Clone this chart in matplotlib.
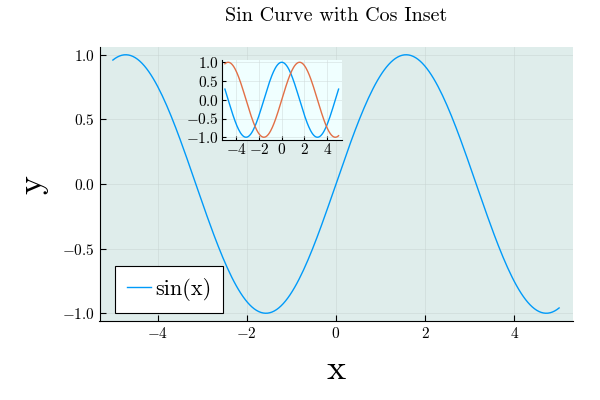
import numpy as np
import matplotlib
matplotlib.use("Agg")
import matplotlib.pyplot as plt

plt.rcParams['font.family'] = 'serif'
plt.rcParams['font.serif'] = ['cmr10']
plt.rcParams['mathtext.fontset'] = 'cm'
plt.rcParams['axes.formatter.use_mathtext'] = True

# data: sin on main plot, cos + sin in the inset
x = np.linspace(-5, 5, 200)
y_sin = np.sin(x)
y_cos = np.cos(x)

xticks = [-4, -2, 0, 2, 4]
yticks_main = [-1.0, -0.5, 0.0, 0.5, 1.0]
yticks_inset = [-1.0, -0.5, 0.0, 0.5, 1.0]

blue = '#009af9'
orange = '#e26f46'


def mlab(vals, fmt):
    return ['$' + format(v, fmt) + '$' for v in vals]


fig = plt.figure(figsize=(6, 4), dpi=100)
ax = fig.add_axes([99.5 / 600, 1 - 321 / 400, 473 / 600, 274 / 400])
ax.set_facecolor('#dfedeb')
ax.plot(x, y_sin, color=blue, lw=1, label='sin(x)')
ax.set_xlim(-5.3, 5.3)
ax.set_ylim(-1.06, 1.06)
ax.set_xticks(xticks)
ax.set_yticks(yticks_main)
ax.set_yticklabels(mlab(yticks_main, '.1f'))
ax.set_xticklabels(mlab(xticks, 'd'))
ax.grid(True, color='#c8d4d2', lw=0.6, alpha=0.6)
for s in ['top', 'right']:
    ax.spines[s].set_visible(False)
ax.tick_params(direction='in', length=4, labelsize=11, width=0.8)
ax.set_xlabel('x', fontsize=26, labelpad=10)
ax.set_ylabel('y', fontsize=26, labelpad=10)
ax.set_title('Sin Curve with Cos Inset', fontsize=14.5, pad=19)
leg = ax.legend(loc='lower left', fontsize=16, fancybox=False, framealpha=1,
                edgecolor='black', handlelength=1.05, handletextpad=0.2,
                borderpad=0.55, borderaxespad=0,
                bbox_to_anchor=(15.5 / 473, 8 / 274))
leg.get_frame().set_linewidth(0.8)

# inset
axi = fig.add_axes([221.5 / 600, 1 - 139.5 / 400, 120.5 / 600, 79.5 / 400])
axi.set_facecolor('#f0ffff')
axi.plot(x, y_cos, color=blue, lw=1)
axi.plot(x, y_sin, color=orange, lw=1)
axi.set_xlim(-5.3, 5.3)
axi.set_ylim(-1.06, 1.06)
axi.set_xticks(xticks)
axi.set_yticks(yticks_inset)
axi.set_yticklabels(mlab(yticks_inset, '.1f'))
axi.set_xticklabels(mlab(xticks, 'd'))
axi.grid(True, color='#d0dada', lw=0.6, alpha=0.6)
for s in ['top', 'right']:
    axi.spines[s].set_visible(False)
axi.tick_params(direction='in', length=3, labelsize=11, width=0.8, pad=2)

fig.savefig('out.png', dpi=100)
